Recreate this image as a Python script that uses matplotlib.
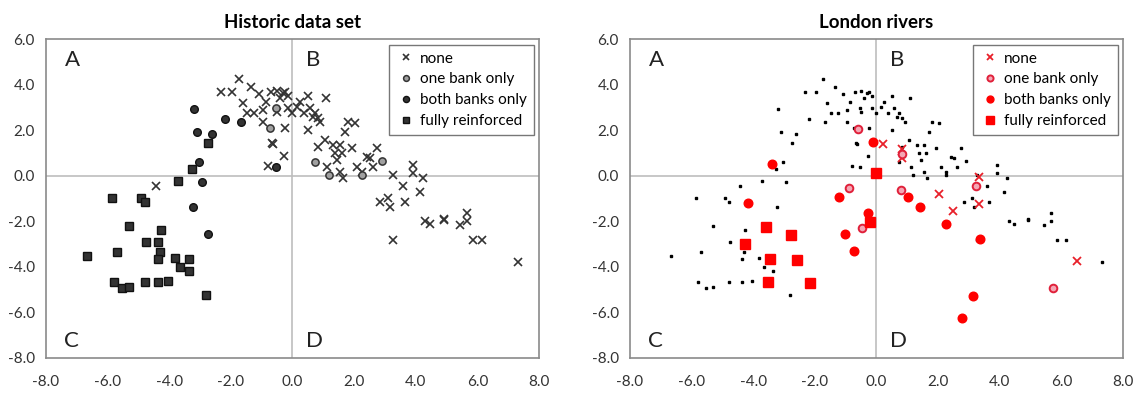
import matplotlib
matplotlib.use("Agg")
import matplotlib.pyplot as plt
from matplotlib.ticker import FormatStrFormatter

plt.rcParams['font.family'] = ['Lato', 'DejaVu Sans']

# ---------------- Historic data set ----------------
none_x = [-4.43, -1.75, -2.33, -1.97, -1.36, -1.59, -1.10, -0.87, -0.97, -1.46, -1.26, -0.94,
          -0.71, -0.49, -0.32, -0.23, -0.39, -0.15, -0.49, -0.23, -0.65, -0.62, -0.29, -0.81,
          -0.13, 0.00, 0.16, 0.26, 0.49, 1.10, 0.36, 0.58, 0.68, 0.84, 0.74, 0.91, 0.49,
          1.72, 1.81, 2.04, 1.07, 0.84, 1.33, 1.55, 1.94, 1.39, 1.62, 1.46, 1.13, 1.55, 1.65,
          2.10, 2.43, 2.75, 2.52, 2.62, 2.27, 3.27, 3.92, 3.92, 4.24, 3.60, 4.14, 2.85, 3.10,
          3.17, 3.66, 3.27, 4.30, 4.47, 4.92, 4.92, 5.44, 5.66, 5.66, 5.86, 6.15, 7.31]
none_y = [-0.44, 4.25, 3.68, 3.68, 3.90, 3.20, 3.60, 3.25, 2.90, 2.76, 2.76, 2.37,
          3.68, 3.73, 3.64, 3.68, 3.42, 3.50, 2.81, 2.10, 1.45, 1.38, 0.88, 0.44,
          2.98, 2.76, 3.03, 3.25, 3.51, 3.42, 2.76, 2.98, 2.59, 2.54, 2.76, 2.37, 2.02,
          1.93, 2.37, 2.32, 1.58, 1.27, 1.36, 1.36, 1.23, 1.00, 1.00, 0.70, 0.40, 0.18, -0.09,
          0.40, 0.83, 1.23, 0.79, 0.40, 0.18, 0.04, 0.48, 0.13, -0.09, -0.44, -0.70, -1.14, -0.96,
          -1.36, -1.14, -2.81, -1.97, -2.10, -1.89, -1.93, -2.15, -1.62, -2.00, -2.81, -2.81, -3.77]

one_x = [-0.55, -0.74, 0.74, 1.17, 2.27, 2.91]
one_y = [2.98, 2.10, 0.61, 0.04, 0.04, 0.66]

both_x = [-3.20, -3.10, -2.62, -2.20, -1.68, -3.04, -2.95, -0.55, -3.24, -2.75]
both_y = [2.94, 1.93, 1.84, 2.50, 2.37, 0.61, -0.26, 0.40, -1.36, -2.54]

full_x = [-2.75, -3.27, -3.72, -5.86, -4.92, -4.79, -5.31, -4.27, -4.76, -4.37, -4.30, -4.37,
          -5.70, -6.67, -3.82, -3.37, -3.66, -3.37, -5.79, -5.53, -5.31, -4.79, -4.37, -4.05, -2.82]
full_y = [1.45, 0.31, -0.22, -1.00, -0.97, -1.15, -2.22, -2.37, -2.89, -2.89, -3.33, -3.64,
          -3.33, -3.51, -3.60, -3.64, -4.00, -4.20, -4.65, -4.91, -4.87, -4.65, -4.65, -4.60, -5.22]

# ---------------- London rivers ----------------
lr_none_x = [0.21, 0.83, 0.83, 2.03, 2.48, 3.33, 3.33, 6.51]
lr_none_y = [1.41, 1.19, 0.79, -0.79, -1.54, -0.04, -1.23, -3.74]

lr_one_x = [-0.60, -0.89, -0.47, 0.83, 0.80, 3.23, 5.72]
lr_one_y = [2.03, -0.53, -2.29, 0.97, -0.62, -0.44, -4.93]

lr_both_x = [-0.11, -3.39, -1.22, -4.17, -0.28, -1.02, -0.73, 1.02, 1.41, 2.26, 3.36, 3.13, 2.78]
lr_both_y = [1.50, 0.53, -0.95, -1.19, -1.63, -2.56, -3.30, -0.93, -1.37, -2.11, -2.78, -5.29, -6.26]

lr_full_x = [0.00, -3.59, -2.78, -4.27, -3.46, -2.59, -3.52, -2.16, -0.21]
lr_full_y = [0.10, -2.25, -2.60, -3.00, -3.66, -3.70, -4.67, -4.71, -2.03]

labels = ["none", "one bank only", "both banks only", "fully reinforced"]
titles = ["Historic data set", "London rivers"]
ticks = [-8, -6, -4, -2, 0, 2, 4, 6, 8]
yticks = [-8, -6, -4, -2, 0, 2, 4, 6]

fig = plt.figure(figsize=(11.46, 3.94), dpi=100)
ax1 = fig.add_axes([0.0401, 0.0914, 0.4302, 0.8096])
ax2 = fig.add_axes([0.5497, 0.0914, 0.4302, 0.8096])

def style(ax, title):
    ax.set_xlim(-8, 8)
    ax.set_ylim(-8, 6)
    ax.set_xticks(ticks)
    ax.set_yticks(yticks)
    ax.xaxis.set_major_formatter(FormatStrFormatter('%.1f'))
    ax.yaxis.set_major_formatter(FormatStrFormatter('%.1f'))
    ax.tick_params(length=0, labelsize=11, colors='#333333')
    ax.tick_params(axis='x', pad=12)
    ax.tick_params(axis='y', pad=8)
    for s in ax.spines.values():
        s.set_color('#8a8a8a')
        s.set_linewidth(1.2)
    ax.axhline(0, color='#bdbdbd', lw=1.2, zorder=0)
    ax.axvline(0, color='#bdbdbd', lw=1.2, zorder=0)
    ax.set_title(title, fontweight='bold', fontsize=13.5, pad=8)
    for lab, x, y in [("A", -7.4, 5.1), ("B", 0.45, 5.1), ("C", -7.4, -7.25), ("D", 0.45, -7.25)]:
        ax.text(x, y, lab, fontsize=16, color='#222222', va='center', ha='left')

style(ax1, titles[0])
style(ax2, titles[1])

def legend(ax):
    leg = ax.legend(loc='upper right', fontsize=11, frameon=True, fancybox=False,
                    edgecolor='#555555', handletextpad=0.3, borderpad=0.45,
                    labelspacing=0.45, markerscale=0.8, handlelength=1.3,
                    borderaxespad=0.0, bbox_to_anchor=(0.99, 0.982))
    leg.get_frame().set_linewidth(1.0)

dark = '#333333'
ax1.plot(none_x, none_y, 'x', color=dark, ms=5.5, mew=1.2, ls='none', label=labels[0])
ax1.plot(one_x, one_y, 'o', mfc='#a0a0a0', mec=dark, ms=5.2, mew=1.1, ls='none', label=labels[1])
ax1.plot(both_x, both_y, 'o', mfc=dark, mec='#111111', ms=5.5, mew=1.0, ls='none', label=labels[2])
ax1.plot(full_x, full_y, 's', mfc=dark, mec='#111111', ms=5.5, mew=1.0, ls='none', label=labels[3])
legend(ax1)

# background historic points
allx = none_x + one_x + both_x + full_x
ally = none_y + one_y + both_y + full_y
ax2.plot(allx, ally, 's', color='black', ms=2.0, ls='none')

red = '#ff0000'
ax2.plot(lr_none_x, lr_none_y, 'x', color='#e8202a', ms=6, mew=1.3, ls='none', label=labels[0])
ax2.plot(lr_one_x, lr_one_y, 'o', mfc='#f4a6b4', mec='#e0203a', ms=5.5, mew=1.4, ls='none', label=labels[1])
ax2.plot(lr_both_x, lr_both_y, 'o', color=red, ms=6.2, ls='none', label=labels[2])
ax2.plot(lr_full_x, lr_full_y, 's', color=red, ms=6.5, ls='none', label=labels[3])
legend(ax2)

fig.savefig('out.png', dpi=100)
